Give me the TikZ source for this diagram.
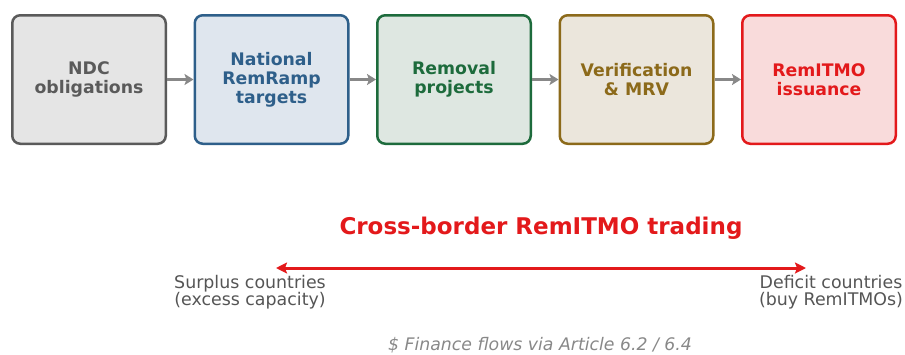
\documentclass[tikz,border=0pt]{standalone}
\usepackage{fontspec}
\setmainfont{DejaVu Sans}
\usetikzlibrary{arrows.meta, positioning}
\definecolor{ndcgray}{HTML}{5A5A5A}
\definecolor{ndcfill}{HTML}{E5E5E5}
\definecolor{natblue}{HTML}{2E5F8A}
\definecolor{natfill}{HTML}{DFE6EE}
\definecolor{remgreen}{HTML}{1D6B3C}
\definecolor{remfill}{HTML}{DEE7E1}
\definecolor{verbrown}{HTML}{8C6A1A}
\definecolor{verfill}{HTML}{EBE6DC}
\definecolor{issred}{HTML}{E3191B}
\definecolor{issfill}{HTML}{F9DBDB}
\definecolor{flowgray}{HTML}{888888}
\definecolor{labelgray}{HTML}{555555}

\tikzset{
  stage/.style 2 args={draw=#1, fill=#2, text=#1, rounded corners=8pt,
    line width=2.5pt, minimum width=153.5pt, minimum height=128.5pt,
    align=center, font=\bfseries\fontsize{17.3}{18.8}\selectfont},
  flow/.style={draw=flowgray, line width=2.5pt,
    -{Stealth[length=9pt, width=11pt, inset=2pt]}},
  trade/.style={draw=issred, line width=3pt,
    {Stealth[length=11pt, width=11pt, inset=2pt]}-{Stealth[length=11pt, width=11pt, inset=2pt]}},
  side/.style={text=labelgray, align=center, font=\fontsize{17.4}{17.6}\selectfont}
}

\begin{document}
\begin{tikzpicture}[x=1pt, y=-1pt, node distance=26.5pt]
  \useasboundingbox (0,0) rectangle (905,354);

  % pipeline of stages
  \node[stage={ndcgray}{ndcfill}] (ndc) at (89,79.5) {NDC\\obligations};
  \node[stage={natblue}{natfill}, right=of ndc] (nat) {National\\RemRamp\\targets};
  \node[stage={remgreen}{remfill}, right=of nat] (rem) {Removal\\projects};
  \node[stage={verbrown}{verfill}, right=of rem] (ver) {Verification\\\& MRV};
  \node[stage={issred}{issfill}, right=of ver] (iss) {RemITMO\\issuance};
  \foreach \a/\b in {ndc/nat, nat/rem, rem/ver, ver/iss}
    \draw[flow] (\a) -- (\b);

  % trading between countries
  \node[text=issred, font=\bfseries\fontsize{23}{26}\selectfont] (title) at (541,228) {Cross-border RemITMO trading};
  \coordinate (tradeL) at (276,268);
  \coordinate (tradeR) at (806,268);
  \draw[trade] (tradeL) -- (tradeR);
  \node[side] (surplus) at (250,292) {Surplus countries\\(excess capacity)};
  \node[side] (deficit) at (831,292) {Deficit countries\\(buy RemITMOs)};

  \node[text=flowgray, font=\itshape\fontsize{17.3}{19}\selectfont] (finance) at (540,345) {\$ Finance flows via Article 6.2 / 6.4};
\end{tikzpicture}
\end{document}
